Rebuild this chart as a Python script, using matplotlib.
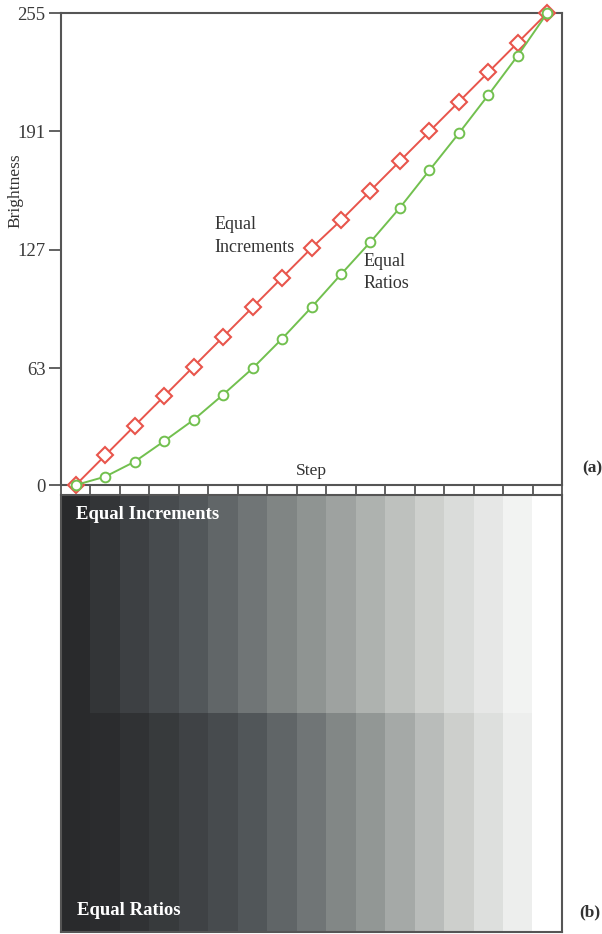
import numpy as np
import matplotlib
matplotlib.use("Agg")
import matplotlib.pyplot as plt
from matplotlib.colors import LinearSegmentedColormap

# ---- data ----
steps = np.arange(17) + 0.5
equal_increments = [0, 16, 32, 48, 64, 80, 96, 112, 128, 143, 159, 175, 191, 207, 223, 239, 255]
equal_ratios = [0, 4.5, 12.6, 23.7, 35.2, 48.8, 63, 79, 96, 113.8, 131.3, 149.8, 170, 190, 210.7, 232, 255]
ytick_vals = [0, 63, 127, 191, 255]
ytick_labels = ["0", "63", "127", "191", "255"]

plt.rcParams['font.family'] = ['Liberation Serif', 'DejaVu Serif']

W, H = 602, 934
fig = plt.figure(figsize=(W / 100, H / 100), dpi=100)

def rect(x0, y0, x1, y1):
    return [x0 / W, 1 - y1 / H, (x1 - x0) / W, (y1 - y0) / H]

spine_col = '#555555'
red = '#e8554c'
green = '#72c04f'

ax = fig.add_axes(rect(61, 13, 562, 485))
ax.plot(steps, equal_increments, color=red, lw=1.4, marker='D', ms=8.5,
        mfc='white', mec=red, mew=1.5, clip_on=False, zorder=3)
ax.plot(steps, equal_ratios, color=green, lw=1.4, marker='o', ms=7,
        mfc='white', mec=green, mew=1.4, clip_on=False, zorder=3)
ax.set_xlim(0, 17)
ax.set_ylim(0, 255)
ax.set_xticks(np.arange(18))
ax.set_xticklabels([])
ax.tick_params(axis='x', direction='out', length=7.2, width=1.3, color=spine_col)
ax.set_yticks(ytick_vals)
ax.set_yticklabels(ytick_labels, fontsize=13.5, color='#3a3a3a')
ax.tick_params(axis='y', direction='out', length=9, width=1.3, color=spine_col, pad=2)
for s in ax.spines.values():
    s.set_color(spine_col)
    s.set_linewidth(1.5)

ax.text(8.5, 3, "Step", ha='center', va='bottom', fontsize=12.5, color='#333333')
ax.text(5.2, 134.5, "Equal\nIncrements", ha='left', va='center', fontsize=13,
        color='#333333', linespacing=1.4)
ax.text(10.25, 115, "Equal\nRatios", ha='left', va='center', fontsize=13,
        color='#333333', linespacing=1.4)

fig.text(15 / W, 1 - 191 / H, "Brightness", rotation=90, ha='center', va='center',
         fontsize=12.5, color='#333333')
fig.text(592 / W, 1 - 468 / H, "(a)", ha='center', va='center', fontsize=12.5,
         fontweight='bold', color='#333333')
fig.text(590 / W, 1 - 912 / H, "(b)", ha='center', va='center', fontsize=12.5,
         fontweight='bold', color='#333333')

# ---- strip ----
cmap = LinearSegmentedColormap.from_list(
    'print_gray',
    [(0, '#292a2c'), (0.25, '#52575a'), (0.5, '#8f9492'), (0.75, '#cfd1ce'), (1, '#ffffff')])
sax = fig.add_axes(rect(61, 495, 562, 932))
grid = np.array([equal_increments, equal_ratios], dtype=float)
sax.imshow(grid, cmap=cmap, vmin=0, vmax=255, aspect='auto',
           extent=[0, 17, 2, 0], interpolation='nearest')
sax.set_xlim(0, 17)
sax.set_ylim(2, 0)
sax.set_xticks([])
sax.set_yticks([])
for s in sax.spines.values():
    s.set_color(spine_col)
    s.set_linewidth(1.5)
sax.text(0.5, 0.09, "Equal Increments", ha='left', va='center', fontsize=13.5,
         fontweight='bold', color='white')
sax.text(0.55, 1.9, "Equal Ratios", ha='left', va='center', fontsize=13.5,
         fontweight='bold', color='white')

fig.savefig('out.png', dpi=100)
